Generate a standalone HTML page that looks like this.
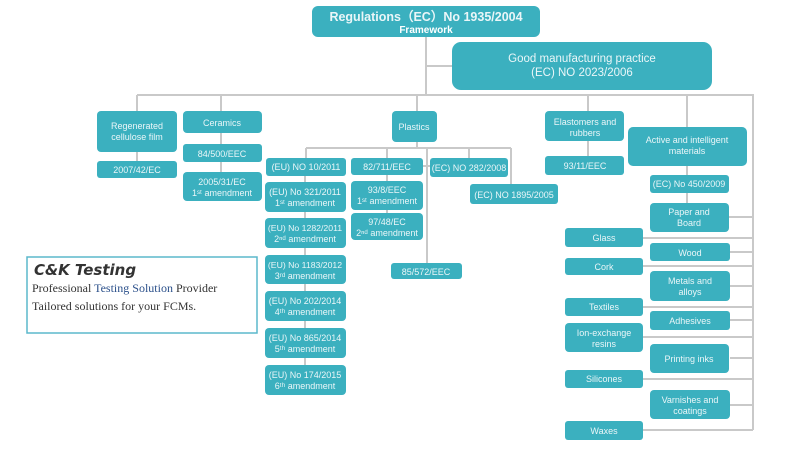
<!DOCTYPE html>
<html><head><meta charset="utf-8"><style>
body{margin:0;background:#fff;width:790px;height:455px;overflow:hidden}
svg text{font-family:"Liberation Sans",sans-serif;fill:#eaf6f8;text-anchor:middle}
</style></head><body>
<svg width="790" height="455" viewBox="0 0 790 455" xmlns="http://www.w3.org/2000/svg">
<g stroke="#c9c9c9" stroke-width="2" fill="none">
<path d="M426 37V95M426 66H452M137 95H753V430M137 95V111M221 95V111M417 95V111M588 95V111M687 95V127"/>
<path d="M137 152V161M221 133V172M588 141V156M687 166V203"/>
<path d="M417 142V148M306 148H511M306 148V158M387 148V158M469 148V158M511 148V184M427 148V263M305 176V365M387 175V213M423 166H430"/>
<path d="M729 217H753M643 238H753M730 252H753M643 266H753M730 286H753M643 307H753M730 320H753M643 337H753M730 358H753M643 379H753M730 405H753M643 430H753"/>
</g>
<g fill="#3bb0bf">
<rect x="312" y="6" width="228" height="31" rx="6"/>
<rect x="452" y="42" width="260" height="48" rx="9"/>
<rect x="97" y="111" width="80" height="41" rx="4"/>
<rect x="97" y="161" width="80" height="17" rx="3"/>
<rect x="183" y="111" width="79" height="22" rx="4"/>
<rect x="183" y="144" width="79" height="18" rx="3"/>
<rect x="183" y="172" width="79" height="29" rx="4"/>
<rect x="392" y="111" width="45" height="31" rx="4"/>
<rect x="266" y="158" width="80" height="18" rx="3"/>
<rect x="351" y="158" width="72" height="17" rx="3"/>
<rect x="430" y="158" width="78" height="19" rx="3"/>
<rect x="470" y="184" width="88" height="20" rx="3"/>
<rect x="265" y="182" width="81" height="30" rx="4"/>
<rect x="265" y="218" width="81" height="30" rx="4"/>
<rect x="265" y="255" width="81" height="29" rx="4"/>
<rect x="265" y="291" width="81" height="30" rx="4"/>
<rect x="265" y="328" width="81" height="30" rx="4"/>
<rect x="265" y="365" width="81" height="30" rx="4"/>
<rect x="351" y="181" width="72" height="29" rx="4"/>
<rect x="351" y="213" width="72" height="27" rx="4"/>
<rect x="391" y="263" width="71" height="16" rx="3"/>
<rect x="545" y="111" width="79" height="30" rx="4"/>
<rect x="545" y="156" width="79" height="19" rx="3"/>
<rect x="628" y="127" width="119" height="39" rx="5"/>
<rect x="650" y="175" width="79" height="18" rx="3"/>
<rect x="650" y="203" width="79" height="29" rx="4"/>
<rect x="650" y="243" width="80" height="18" rx="3"/>
<rect x="650" y="271" width="80" height="30" rx="4"/>
<rect x="650" y="311" width="80" height="19" rx="3"/>
<rect x="650" y="344" width="79" height="29" rx="4"/>
<rect x="650" y="390" width="80" height="29" rx="4"/>
<rect x="565" y="228" width="78" height="19" rx="3"/>
<rect x="565" y="258" width="78" height="17" rx="3"/>
<rect x="565" y="298" width="78" height="18" rx="3"/>
<rect x="565" y="323" width="78" height="29" rx="4"/>
<rect x="565" y="370" width="78" height="18" rx="3"/>
<rect x="565" y="421" width="78" height="19" rx="3"/>
</g>
<text x="426" y="21" font-size="12.5" font-weight="bold" fill="#fff">Regulations（EC）No 1935/2004</text>
<text x="426" y="33" font-size="10" font-weight="bold" style="fill:#fff">Framework</text>
<text x="582" y="62" font-size="11.5">Good manufacturing practice</text>
<text x="582" y="76" font-size="11.5">(EC) NO 2023/2006</text>
<g font-size="9">
<text x="137" y="129">Regenerated</text><text x="137" y="140">cellulose film</text>
<text x="137" y="173">2007/42/EC</text>
<text x="222" y="126">Ceramics</text>
<text x="222" y="157">84/500/EEC</text>
<text x="222" y="185">2005/31/EC</text><text x="222" y="196">1ˢᵗ amendment</text>
<text x="414" y="130">Plastics</text>
<text x="306" y="170">(EU) NO 10/2011</text>
<text x="387" y="170">82/711/EEC</text>
<text x="469" y="171">(EC) NO 282/2008</text>
<text x="514" y="198">(EC) NO 1895/2005</text>
<text x="305" y="195">(EU) No 321/2011</text><text x="305" y="206">1ˢᵗ amendment</text>
<text x="305" y="231" font-size="8.7">(EU) No 1282/2011</text><text x="305" y="242">2ⁿᵈ amendment</text>
<text x="305" y="268" font-size="8.7">(EU) No 1183/2012</text><text x="305" y="279">3ʳᵈ amendment</text>
<text x="305" y="304">(EU) No 202/2014</text><text x="305" y="315">4ᵗʰ amendment</text>
<text x="305" y="341">(EU) No 865/2014</text><text x="305" y="352">5ᵗʰ amendment</text>
<text x="305" y="378">(EU) No 174/2015</text><text x="305" y="389">6ᵗʰ amendment</text>
<text x="387" y="193">93/8/EEC</text><text x="387" y="204">1ˢᵗ amendment</text>
<text x="387" y="225">97/48/EC</text><text x="387" y="236">2ⁿᵈ amendment</text>
<text x="426" y="275">85/572/EEC</text>
<text x="585" y="125">Elastomers and</text><text x="585" y="136">rubbers</text>
<text x="585" y="169">93/11/EEC</text>
<text x="687" y="143">Active and intelligent</text><text x="687" y="154">materials</text>
<text x="689" y="187">(EC) No 450/2009</text>
<text x="689" y="215">Paper and</text><text x="689" y="226">Board</text>
<text x="690" y="256">Wood</text>
<text x="690" y="284">Metals and</text><text x="690" y="295">alloys</text>
<text x="690" y="324">Adhesives</text>
<text x="689" y="362">Printing inks</text>
<text x="690" y="403">Varnishes and</text><text x="690" y="414">coatings</text>
<text x="604" y="241">Glass</text>
<text x="604" y="270">Cork</text>
<text x="604" y="310">Textiles</text>
<text x="604" y="336">Ion-exchange</text><text x="604" y="347">resins</text>
<text x="604" y="382">Silicones</text>
<text x="604" y="434">Waxes</text>
</g>
<rect x="27" y="257" width="230" height="76" fill="#fff" stroke="#5bb8cc" stroke-width="1.5"/>
<text x="34" y="275" font-size="15" font-weight="bold" font-style="italic" style="fill:#333;text-anchor:start;font-family:'DejaVu Sans',sans-serif">C&amp;K Testing</text>
<text x="32" y="292" font-size="12" style="fill:#333;text-anchor:start;font-family:'Liberation Serif',serif">Professional <tspan fill="#2a4f8a">Testing Solution</tspan> Provider</text>
<text x="32" y="310" font-size="12" style="fill:#333;text-anchor:start;font-family:'Liberation Serif',serif">Tailored solutions for your FCMs.</text>
</svg>
</body></html>
